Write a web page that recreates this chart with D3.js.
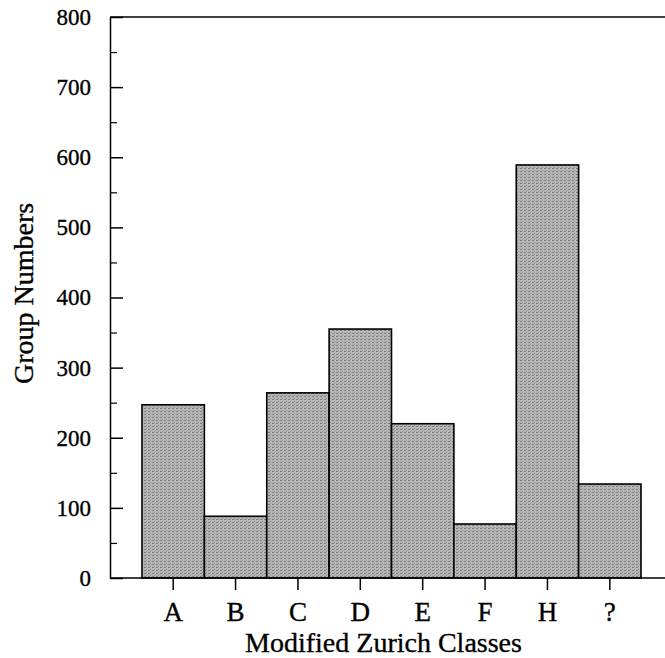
<!DOCTYPE html>
<html>
<head>
<meta charset="utf-8">
<script src="https://cdn.jsdelivr.net/npm/d3@7"></script>
<style>
  html, body { margin: 0; padding: 0; background: #fff; }
  svg { display: block; }
  text { font-family: "Liberation Serif", "Times New Roman", serif; fill: #000; stroke: #000; stroke-width: 0.35px; }
</style>
</head>
<body>
<svg id="chart" width="665" height="658"></svg>
<script>
const categories = ["A", "B", "C", "D", "E", "F", "H", "?"];
const groupNumbers = [247, 88, 264, 355, 220, 77, 589, 134];
const yMajorTicks = [0, 100, 200, 300, 400, 500, 600, 700, 800];
const yMinorTicks = [50, 150, 250, 350, 450, 550, 650, 750];
const xTitle = "Modified Zurich Classes";
const yTitle = "Group Numbers";

const svg = d3.select("#chart");
const plot = { left: 110, right: 665, top: 17, bottom: 578 };

const y = d3.scaleLinear().domain([0, 800]).range([plot.bottom, plot.top]);
const x = d3.scaleBand().domain(categories).range([142, 641]).paddingInner(0).paddingOuter(0);

// pattern to mimic stippled grey fill
const defs = svg.append("defs");
const pat = defs.append("pattern").attr("id", "stipple").attr("patternUnits", "userSpaceOnUse")
  .attr("width", 4).attr("height", 3);
pat.append("rect").attr("width", 4).attr("height", 3).attr("fill", "#b6b6b6");
pat.append("rect").attr("x", 0).attr("y", 0).attr("width", 2).attr("height", 1).attr("fill", "#7e7e7e");
pat.append("rect").attr("x", 2).attr("y", 2).attr("width", 1).attr("height", 1).attr("fill", "#8e8e8e");

// bars
svg.append("g").selectAll("rect")
  .data(categories.map((c, i) => ({ c, v: groupNumbers[i] })))
  .join("rect")
  .attr("x", d => x(d.c))
  .attr("y", d => y(d.v))
  .attr("width", x.bandwidth())
  .attr("height", d => y(0) - y(d.v))
  .attr("fill", "url(#stipple)")
  .attr("stroke", "#000")
  .attr("stroke-width", 1.6);

// top frame line
svg.append("line")
  .attr("x1", plot.left).attr("x2", plot.right)
  .attr("y1", y(800)).attr("y2", y(800))
  .attr("stroke", "#000").attr("stroke-width", 1.5);

// bottom axis line
svg.append("line")
  .attr("x1", plot.left).attr("x2", plot.right)
  .attr("y1", y(0)).attr("y2", y(0))
  .attr("stroke", "#000").attr("stroke-width", 1.5);

// x axis
const xAxis = svg.append("g")
  .attr("transform", `translate(0,${y(0)})`)
  .call(d3.axisBottom(x).tickSizeInner(12).tickSizeOuter(0).tickPadding(12));
xAxis.attr("font-family", null).attr("font-size", null);
xAxis.select(".domain").remove();
xAxis.selectAll("line").attr("stroke", "#000").attr("stroke-width", 1.5);
xAxis.selectAll("text").attr("font-size", 27).attr("fill", "#000");

// y axis major
const yAxis = svg.append("g")
  .attr("transform", `translate(${plot.left},0)`)
  .call(d3.axisLeft(y).tickValues(yMajorTicks).tickFormat(d3.format("d"))
    .tickSizeInner(-13).tickSizeOuter(0).tickPadding(19));
yAxis.attr("font-family", null).attr("font-size", null);
yAxis.select(".domain").attr("stroke", "#000").attr("stroke-width", 1.5);
yAxis.selectAll("line").attr("stroke", "#000").attr("stroke-width", 1.5);
yAxis.selectAll("text").attr("font-size", 23).attr("fill", "#000");

// y axis minor
const yMinor = svg.append("g")
  .attr("transform", `translate(${plot.left},0)`)
  .call(d3.axisLeft(y).tickValues(yMinorTicks).tickFormat("").tickSizeInner(-7).tickSizeOuter(0));
yMinor.select(".domain").remove();
yMinor.selectAll("line").attr("stroke", "#000").attr("stroke-width", 1.2);

// titles
svg.append("text")
  .attr("x", (plot.left + plot.right) / 2 - 4)
  .attr("y", 652)
  .attr("text-anchor", "middle")
  .attr("font-size", 28)
  .text(xTitle);

svg.append("text")
  .attr("transform", `translate(33,${(plot.top + plot.bottom) / 2 - 4}) rotate(-90)`)
  .attr("text-anchor", "middle")
  .attr("font-size", 28)
  .text(yTitle);
</script>
</body>
</html>
